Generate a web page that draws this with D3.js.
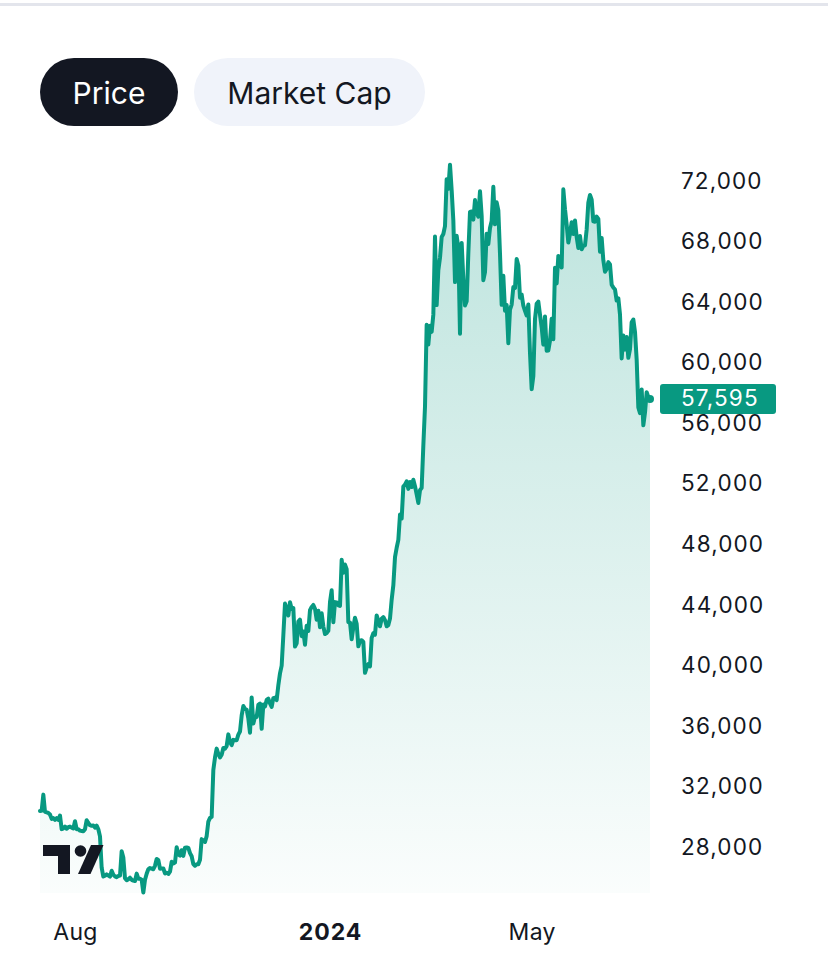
<!DOCTYPE html>
<html>
<head>
<meta charset="utf-8">
<script src="https://cdn.jsdelivr.net/npm/d3@7"></script>
<style>
  html, body { margin: 0; padding: 0; background: #ffffff; }
  svg { display: block; }
  text { font-family: Inter, "Noto Sans", "Liberation Sans", sans-serif; }
</style>
</head>
<body>
<svg id="chart" width="828" height="971"></svg>
<script>
// ---------------- DATA ----------------
const startDate = "2023-07-11";
const tabs = ["Price", "Market Cap"];
const jul2023 = [30380, 30390, 31460, 30320, 30290, 30250, 30150, 29860, 29910, 29800, 29910, 29790, 30080, 29180, 29230, 29350, 29210, 29310, 29350, 29280, 29230];
const aug2023 = [29700, 29180, 29180, 29080, 29060, 29040, 29180, 29770, 29580, 29440, 29400, 29420, 29280, 29410, 29170, 28700, 26630, 26050, 26100, 26190, 26120, 26040, 26430, 26160, 26060, 26010, 26090, 26110, 27720, 27300, 25930];
const sep2023 = [25800, 25870, 25970, 25830, 25780, 25750, 26240, 25910, 25900, 25840, 25000, 25840, 26230, 26540, 26610, 26570, 26530, 26760, 27210, 27130, 26570, 26580, 26580, 26250, 26300, 26220, 26370, 27020, 26910, 26970];
const oct2023 = [27990, 27510, 27430, 27790, 27410, 27950, 27970, 27940, 27600, 27390, 26870, 26760, 26860, 26860, 27160, 28520, 28420, 28330, 28720, 29680, 29920, 29990, 33090, 33920, 34500, 34160, 33910, 34090, 34540, 34500, 34670];
const nov2023 = [35440, 34940, 34730, 35080, 35050, 35050, 35420, 35630, 36690, 37310, 37130, 37070, 36490, 35550, 37880, 36160, 36600, 36590, 37390, 37480, 35810, 37420, 37290, 37720, 37800, 37480, 37250, 37830, 37860, 37710];
const dec2023 = [38690, 39470, 39980, 41990, 44080, 43770, 43290, 44170, 43720, 43790, 41240, 41450, 42890, 43020, 41930, 42240, 41360, 42620, 42270, 43650, 43860, 43990, 43740, 43020, 43610, 42520, 43440, 42580, 42070, 42140, 42280];
const jan2024 = [44180, 44960, 42850, 44180, 44160, 43970, 43930, 46970, 46120, 46660, 46350, 42850, 42840, 41730, 42510, 43150, 42740, 41260, 41620, 41660, 41550, 39510, 39850, 40080, 39930, 41820, 42120, 42030, 43300, 42940, 42580];
const feb2024 = [43080, 43190, 42990, 42580, 42660, 43090, 44340, 45290, 47150, 47770, 48290, 49960, 49700, 51810, 51940, 52160, 51660, 52120, 51780, 52260, 51840, 51300, 50730, 51570, 51730, 54520, 57090, 62500, 61200];
const mar2024 = [62440, 62030, 63170, 68330, 63800, 66110, 66930, 68300, 68500, 69020, 72120, 71480, 73080, 71400, 69400, 65320, 68390, 67550, 61910, 67910, 65490, 63780, 64060, 67230, 69960, 69990, 69450, 70740, 69890, 69650, 71330];
const apr2024 = [69700, 65450, 65980, 68510, 67840, 68900, 69360, 71620, 69140, 70590, 70060, 67200, 63820, 65740, 63430, 63810, 61280, 63510, 63840, 64990, 64930, 66840, 66410, 64290, 64500, 63760, 63420, 63110, 63840, 60640];
const may2024 = [58250, 59120, 62890, 63890, 64030, 63160, 62330, 61190, 63050, 60790, 60800, 61450, 62900, 61550, 66270, 65230, 67050, 66940, 66280, 71450, 70140, 69120, 67930, 68530, 69280, 68500, 69390, 68300, 67580, 68360, 67490];
const jun2024 = [67710, 67750, 68800, 70570, 71080, 70760, 69340, 69310, 69650, 69500, 67330, 68240, 66760, 66010, 66190, 66640, 66490, 65150, 64960, 64830, 64100, 64250, 63180, 60280, 61800, 60860, 61700, 60320, 60890, 62670];
const jul2024 = [62850, 62030, 60200, 57040, 56660, 58230, 55860, 56700, 58050, 57720, 57595];
const yTicks = [72000, 68000, 64000, 60000, 56000, 52000, 48000, 44000, 40000, 36000, 32000, 28000];
const xTicks = ["2023-08-01", "2024-01-01", "2024-05-01"];
const xTickLabels = ["Aug", "2024", "May"];

// ---------------- BUILD ----------------
const parse = d3.timeParse("%Y-%m-%d");
const prices = [].concat(jul2023, aug2023, sep2023, oct2023, nov2023, dec2023, jan2024, feb2024, mar2024, apr2024, may2024, jun2024, jul2024);
const start = parse(startDate);
const data = prices.map((v, i) => ({ date: d3.timeDay.offset(start, i), value: v }));
const last = data[data.length - 1];

const GREEN = "#089981";
const DARK = "#131722";

const svg = d3.select("#chart");

// top divider
svg.append("rect").attr("x", 0).attr("y", 3).attr("width", 828).attr("height", 3).attr("fill", "#e3e5ec");

// tabs
const tabX = [40, 194], tabW = [138, 231];
tabs.forEach((t, i) => {
  const g = svg.append("g");
  g.append("rect").attr("x", tabX[i]).attr("y", 58).attr("width", tabW[i]).attr("height", 68)
    .attr("rx", 34).attr("fill", i === 0 ? DARK : "#f0f3fa");
  g.append("text").attr("x", tabX[i] + tabW[i] / 2).attr("y", 93).attr("dy", "0.35em")
    .attr("text-anchor", "middle").attr("font-size", 30)
    .attr("fill", i === 0 ? "#ffffff" : DARK).text(t);
});

// scales
const x = d3.scaleTime().domain([data[0].date, last.date]).range([40, 650]);
const y = d3.scaleLinear().domain([28000, 72000]).range([847, 181]);
const baseY = 893;

// gradient
const defs = svg.append("defs");
const grad = defs.append("linearGradient").attr("id", "fillGrad")
  .attr("gradientUnits", "userSpaceOnUse")
  .attr("x1", 0).attr("x2", 0).attr("y1", y(d3.max(prices))).attr("y2", baseY);
grad.append("stop").attr("offset", "0%").attr("stop-color", GREEN).attr("stop-opacity", 0.27);
grad.append("stop").attr("offset", "100%").attr("stop-color", GREEN).attr("stop-opacity", 0.02);

const area = d3.area().x(d => x(d.date)).y0(baseY).y1(d => y(d.value));
const line = d3.line().x(d => x(d.date)).y(d => y(d.value));

svg.append("path").datum(data).attr("d", area).attr("fill", "url(#fillGrad)");
svg.append("path").datum(data).attr("d", line).attr("fill", "none")
  .attr("stroke", GREEN).attr("stroke-width", 4)
  .attr("stroke-linejoin", "round").attr("stroke-linecap", "round");
svg.append("circle").attr("cx", x(last.date)).attr("cy", y(last.value)).attr("r", 4).attr("fill", GREEN);

// y axis
const yAxis = d3.axisRight(y).tickValues(yTicks).tickSize(0).tickPadding(0).tickFormat(d3.format(","));
const gy = svg.append("g").attr("transform", "translate(681,0)").call(yAxis);
gy.select(".domain").remove();
gy.selectAll("text").attr("font-size", 22.5).attr("fill", DARK)
  .attr("font-family", "Inter, 'Noto Sans', sans-serif").attr("letter-spacing", "1.1px");

// price label
const ly = y(last.value);
svg.append("rect").attr("x", 660).attr("y", ly - 15).attr("width", 116).attr("height", 30)
  .attr("rx", 3).attr("fill", GREEN);
svg.append("text").attr("x", 681).attr("y", ly).attr("dy", "0.32em")
  .attr("font-size", 22.5).attr("fill", "#ffffff").attr("letter-spacing", "1.1px")
  .text(d3.format(",")(last.value));

// x axis
const xAxis = d3.axisBottom(x).tickValues(xTicks.map(parse)).tickSize(0).tickPadding(0)
  .tickFormat((d, i) => xTickLabels[i]);
const gx = svg.append("g").attr("transform", "translate(0,924)").call(xAxis);
gx.select(".domain").remove();
gx.selectAll("text").attr("font-size", 23).attr("fill", DARK)
  .attr("font-family", "Inter, 'Noto Sans', sans-serif")
  .attr("font-weight", (d, i) => i === 1 ? 700 : 400)
  .attr("letter-spacing", (d, i) => i === 1 ? "1px" : "0.3px");

// TradingView logo
const logo = svg.append("g").attr("fill", DARK);
logo.append("path").attr("d", "M43,845 H70 V874 H58 V856 H43 Z");
logo.append("circle").attr("cx", 80.5).attr("cy", 851).attr("r", 5.8);
logo.append("path").attr("d", "M91,845 H103.5 L90.5,874 H78 Z");
</script>
</body>
</html>
